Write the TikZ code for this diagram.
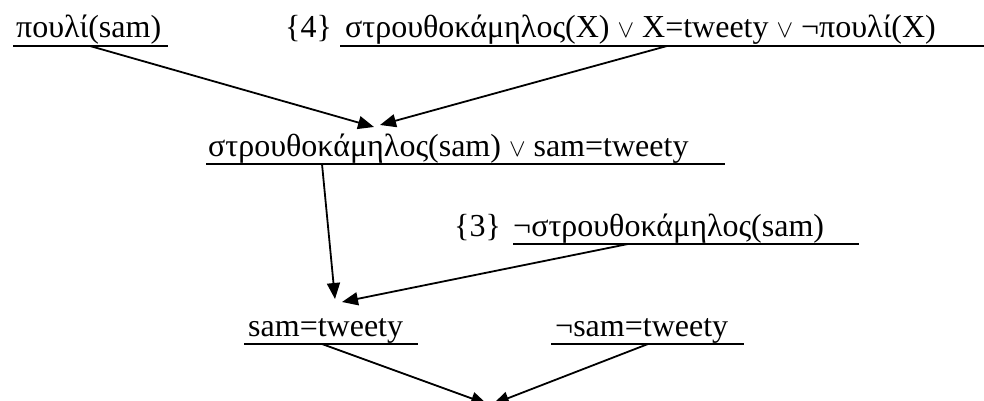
\documentclass[tikz,border=0pt]{standalone}
\usepackage{fontspec}
\setmainfont{Liberation Serif}
\usetikzlibrary{arrows.meta}
\begin{document}
\begin{tikzpicture}[x=1pt,y=-1pt,
  lbl/.style={anchor=base west, inner sep=0pt, font=\fontsize{32}{38}\selectfont},
  uline/.style={line width=1.8pt},
  conn/.style={line width=1.8pt, -{Triangle[length=16pt,width=13pt]}}]
\clip (0,0) rectangle (984,401);
% texts
\node[lbl] (t1) at (16,37.5) {πουλί(sam)};
\node[lbl] (n4) at (285,37.5) {\{4\}};
\node[lbl] (t2) at (345,37.5) {στρουθοκάμηλος(X) $\vee$ X=tweety $\vee$ ¬πουλί(X)};
\node[lbl] (t3) at (208,156) {στρουθοκάμηλος(sam) $\vee$ sam=tweety};
\node[lbl] (n3) at (454,236) {\{3\}};
\node[lbl] (t4) at (513,236) {¬στρουθοκάμηλος(sam)};
\node[lbl] (t5) at (248,336) {sam=tweety};
\node[lbl] (t6) at (555,336) {¬sam=tweety};
% underlines
\draw[uline] (13,46) -- (168,46);
\draw[uline] (340,46) -- (984,46);
\draw[uline] (206,164) -- (725,164);
\draw[uline] (513,244) -- (859,244);
\draw[uline] (244,344) -- (418,344);
\draw[uline] (551,344) -- (744,344);
% connector ends
\coordinate (s1) at (90,46);
\coordinate (s2) at (667,46);
\coordinate (s3) at (322,164);
\coordinate (s4) at (628,244);
\coordinate (s5) at (322,344);
\coordinate (s6) at (648,344);
\coordinate (e1) at (374,127);
\coordinate (e2) at (380,125);
\coordinate (e3) at (335,299);
\coordinate (e4) at (342,302);
\coordinate (e5) at (487,404);
\coordinate (e6) at (493,404);
\draw[conn] (s1) -- (e1);
\draw[conn] (s2) -- (e2);
\draw[conn] (s3) -- (e3);
\draw[conn] (s4) -- (e4);
\draw[conn] (s5) -- (e5);
\draw[conn] (s6) -- (e6);
\end{tikzpicture}
\end{document}
